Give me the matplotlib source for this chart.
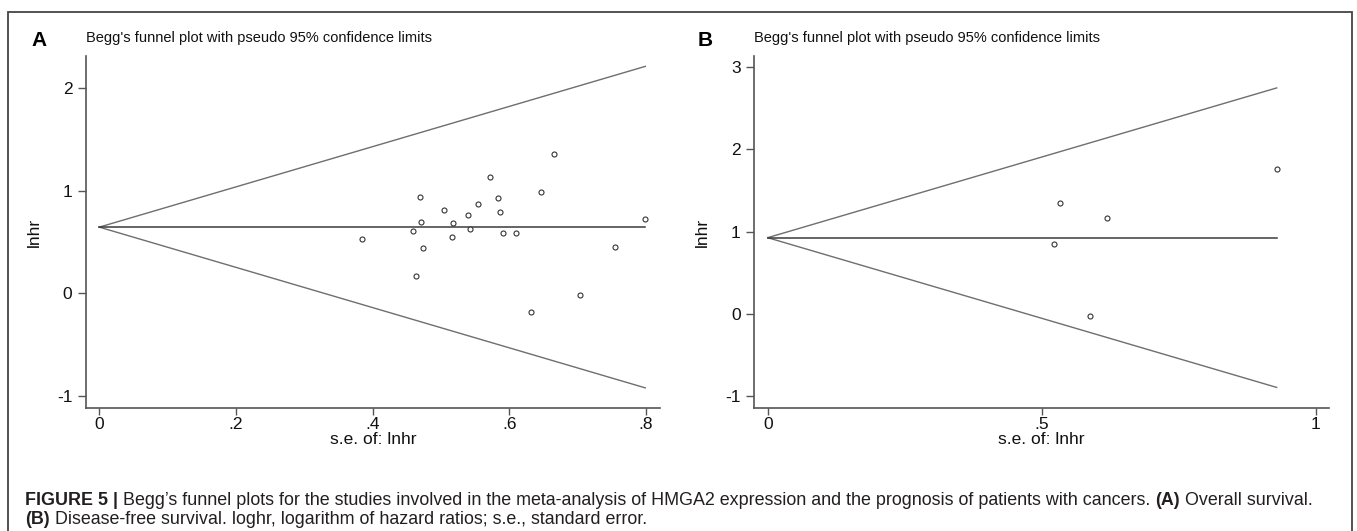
import numpy as np
import matplotlib
matplotlib.use("Agg")
import matplotlib.pyplot as plt
from matplotlib.patches import Rectangle

plt.rcParams['font.family'] = ['Liberation Sans', 'DejaVu Sans']
plt.rcParams['axes.unicode_minus'] = False

# Panel A: overall survival
se_a = [0.385, 0.459, 0.469, 0.471, 0.473, 0.464, 0.504, 0.517, 0.516, 0.539,
        0.543, 0.554, 0.571, 0.583, 0.587, 0.591, 0.610, 0.632, 0.646, 0.665,
        0.704, 0.754, 0.799]
lnhr_a = [0.527, 0.611, 0.940, 0.696, 0.446, 0.169, 0.807, 0.683, 0.550, 0.764,
          0.624, 0.872, 1.138, 0.933, 0.793, 0.592, 0.585, -0.182, 0.989, 1.356,
          -0.020, 0.449, 0.725]
pooled_a = 0.645

# Panel B: disease-free survival
se_b = [0.522, 0.533, 0.588, 0.620, 0.929]
lnhr_b = [0.852, 1.351, -0.032, 1.164, 1.761]
pooled_b = 0.925

z95 = 1.96

xticks_a = [0, 0.2, 0.4, 0.6, 0.8]
xticklabels_a = ['0', '.2', '.4', '.6', '.8']
yticks_a = [-1, 0, 1, 2]
xticks_b = [0, 0.5, 1]
xticklabels_b = ['0', '.5', '1']
yticks_b = [-1, 0, 1, 2, 3]

title = "Begg's funnel plot with pseudo 95% confidence limits"

W, H = 1357, 531
fig = plt.figure(figsize=(W / 100, H / 100), dpi=100)

axis_col = '#555555'
line_col = '#6e6e6e'


def funnel(ax, se, lnhr, pooled, xlim, ylim, xticks, xlabels, yticks):
    grid = np.array([0, max(se)])
    ax.plot(grid, pooled + z95 * grid, color=line_col, lw=1.0)
    ax.plot(grid, pooled - z95 * grid, color=line_col, lw=1.0)
    ax.plot(grid, [pooled, pooled], color='#3a3a3a', lw=1.1)
    ax.plot(se, lnhr, 'o', ms=3.6, mfc='white', mec='#333333', mew=0.8)
    ax.set_xlim(*xlim)
    ax.set_ylim(*ylim)
    ax.set_xticks(xticks)
    ax.set_xticklabels(xlabels)
    ax.set_yticks(yticks)
    for s in ['top', 'right']:
        ax.spines[s].set_visible(False)
    for s in ['left', 'bottom']:
        ax.spines[s].set_color(axis_col)
        ax.spines[s].set_linewidth(1.2)
    ax.tick_params(axis='x', direction='out', length=5, pad=1.5, width=1,
                   color=axis_col, labelsize=12.5, labelcolor='#111111')
    ax.tick_params(axis='y', direction='out', length=5.5, pad=4, width=1,
                   color=axis_col, labelsize=12.5, labelcolor='#111111')
    ax.set_xlabel('s.e. of: lnhr', fontsize=12.5, labelpad=0, color='#111111')
    ax.set_ylabel('lnhr', fontsize=12.5, color='#111111')
    ax.yaxis.set_label_coords(-44 / 575, 0.5)
    ax.set_title(title, fontsize=10.5, loc='left', pad=10, color='#111111')


top = 1 - 56 / H
bottom = 1 - 408 / H
ax_a = fig.add_axes([85.5 / W, bottom, (660 - 85.5) / W, top - bottom])
funnel(ax_a, se_a, lnhr_a, pooled_a, (-0.0202, 0.8205), (-1.117, 2.312),
       xticks_a, xticklabels_a, yticks_a)

ax_b = fig.add_axes([754 / W, bottom, (1329 - 754) / W, top - bottom])
funnel(ax_b, se_b, lnhr_b, pooled_b, (-0.025, 1.0245), (-1.146, 3.134),
       xticks_b, xticklabels_b, yticks_b)

fig.text(31 / W, 1 - 40 / H, 'A', fontsize=15, fontweight='bold', va='center')
fig.text(698 / W, 1 - 40 / H, 'B', fontsize=15, fontweight='bold', va='center')

# frame around the figure
fig.patches.append(Rectangle((7.5 / W, -0.02), (1352 - 7.5) / W, 1 - 12 / H + 0.02,
                             transform=fig.transFigure, fill=False,
                             ec='#444444', lw=1.3))

# caption with mixed bold/regular pieces
cap_col = '#231f20'
cap_size = 12.9
lines = [
    [("FIGURE 5 | ", 'bold'),
     ("Begg\u2019s funnel plots for the studies involved in the meta-analysis of HMGA2 "
      "expression and the prognosis of patients with cancers. ", 'normal'),
     ("(A)", 'bold'), (" Overall survival.", 'normal')],
    [("(B)", 'bold'),
     (" Disease-free survival. loghr, logarithm of hazard ratios; s.e., standard error.",
      'normal')],
]
baselines = [505, 524]
fig.canvas.draw()
renderer = fig.canvas.get_renderer()
for parts, yb in zip(lines, baselines):
    x = 25
    for txt, wt in parts:
        t = fig.text(x / W, 1 - yb / H, txt, fontsize=cap_size, fontweight=wt,
                     color=cap_col, va='baseline', ha='left')
        x += t.get_window_extent(renderer).width

fig.savefig('out.png', dpi=100)
